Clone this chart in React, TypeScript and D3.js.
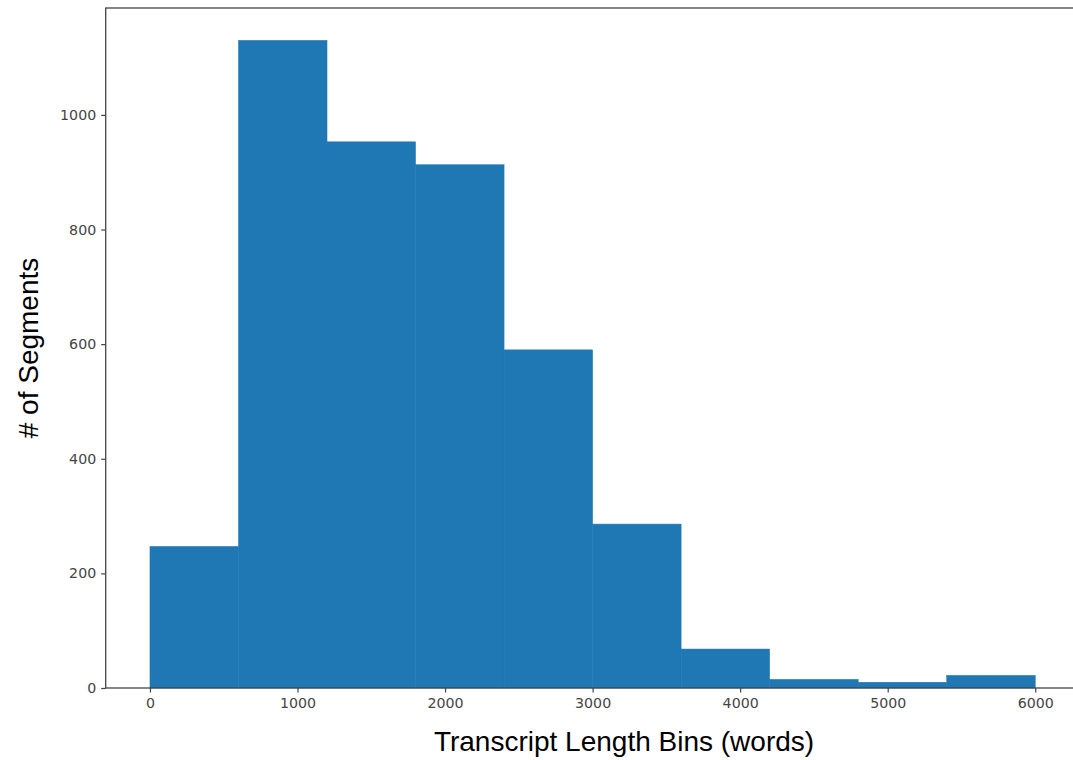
import React, { useEffect, useRef } from 'react';
import * as d3 from 'd3';

// histogram bins (words) and counts
const binEdges = [0, 600, 1200, 1800, 2400, 3000, 3600, 4200, 4800, 5400, 6000];
const counts = [247, 1130, 953, 913, 590, 286, 68, 15, 10, 22];
const xTicks = [0, 1000, 2000, 3000, 4000, 5000, 6000];
const yTicks = [0, 200, 400, 600, 800, 1000];

const W = 1073;
const H = 760;

const App: React.FC = () => {
  const svgRef = useRef<SVGSVGElement | null>(null);

  useEffect(() => {
    if (!svgRef.current) return;
    const svg = d3.select(svgRef.current);
    svg.selectAll('*').remove();

    // the right spine sits just past the picture's edge in the original
    const margin = { top: 8, right: -6.5, bottom: 72, left: 105.7 };
    const innerW = W - margin.left - margin.right;
    const innerH = H - margin.top - margin.bottom;

    const maxX = binEdges[binEdges.length - 1];
    const maxY = d3.max(counts) ?? 0;
    // matplotlib style 5% padding
    const x = d3.scaleLinear().domain([-0.05 * maxX, 1.05 * maxX]).range([0, innerW]);
    const y = d3.scaleLinear().domain([0, maxY * 1.05]).range([innerH, 0]);

    const g = svg.append('g').attr('transform', `translate(${margin.left},${margin.top})`);

    const bins = counts.map((c, i) => ({ x0: binEdges[i], x1: binEdges[i + 1], c }));

    g.selectAll('.bar')
      .data(bins)
      .enter().append('rect')
      .attr('class', 'bar')
      .attr('x', d => x(d.x0))
      .attr('width', d => x(d.x1) - x(d.x0))
      .attr('y', d => y(d.c))
      .attr('height', d => y(0) - y(d.c))
      .attr('fill', '#1f77b4')
      .attr('stroke', '#1f77b4')
      .attr('stroke-width', 0.5);

    const tickColor = '#444';

    const xAxis = g.append('g')
      .attr('transform', `translate(0,${innerH})`)
      .call(d3.axisBottom(x).tickValues(xTicks).tickFormat(d3.format('d')).tickSize(4.5).tickPadding(5));
    const yAxis = g.append('g')
      .call(d3.axisLeft(y).tickValues(yTicks).tickFormat(d3.format('d')).tickSize(4.5).tickPadding(5));

    [xAxis, yAxis].forEach(a => {
      a.select('.domain').remove();
      a.selectAll('line').attr('stroke', tickColor).attr('stroke-width', 1.2);
      a.selectAll('text')
        .attr('fill', tickColor)
        .style('font-family', '"DejaVu Sans", sans-serif')
        .style('font-size', '14.2px');
    });

    // frame
    g.append('rect')
      .attr('x', 0).attr('y', 0)
      .attr('width', innerW).attr('height', innerH)
      .attr('fill', 'none')
      .attr('stroke', tickColor)
      .attr('stroke-width', 1.3);

    svg.append('text')
      .attr('x', 624)
      .attr('y', 751)
      .attr('text-anchor', 'middle')
      .style('font-family', '"Liberation Sans", Arial, sans-serif')
      .style('font-size', '28px')
      .attr('fill', '#000')
      .text('Transcript Length Bins (words)');

    svg.append('text')
      .attr('transform', `translate(38,${margin.top + innerH / 2}) rotate(-90)`)
      .attr('text-anchor', 'middle')
      .style('font-family', '"Liberation Sans", Arial, sans-serif')
      .style('font-size', '28px')
      .attr('fill', '#000')
      .text('# of Segments');
  }, []);

  return (
    <svg
      ref={svgRef}
      width={W}
      height={H}
      style={{ position: 'absolute', left: 0, top: 0, background: '#fff' }}
    />
  );
};

export default App;
